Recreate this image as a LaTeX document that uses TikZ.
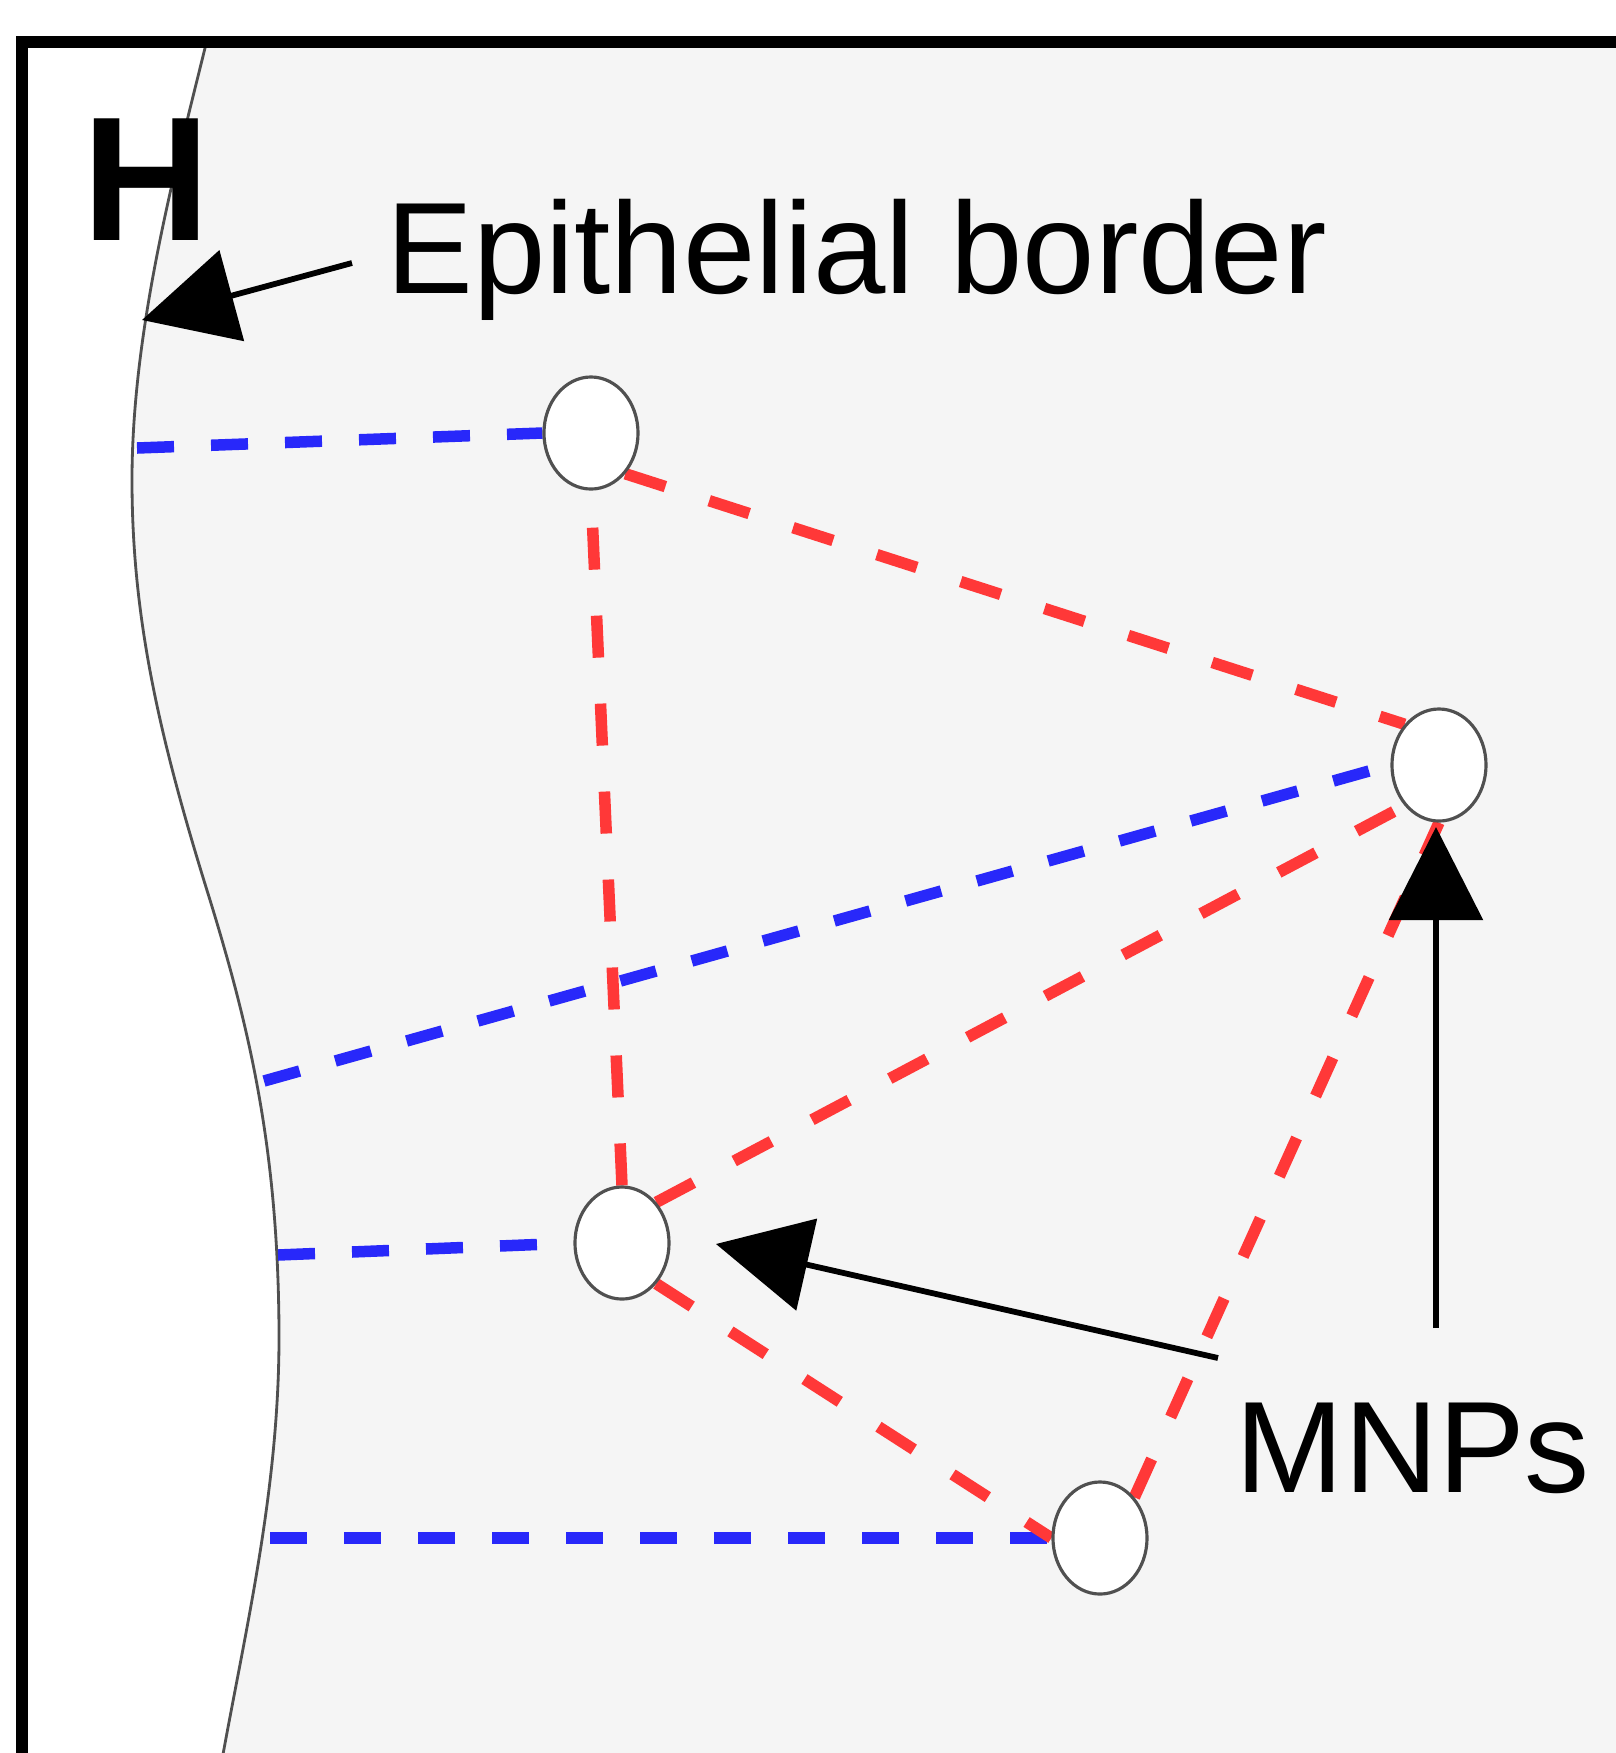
\documentclass[tikz,border=0pt]{standalone}
\usepackage{fontspec}
\setmainfont{Liberation Sans}
\usetikzlibrary{arrows.meta,shapes.geometric}
\definecolor{bggray}{RGB}{245,245,245}
\definecolor{dred}{RGB}{255,56,56}
\definecolor{dblue}{RGB}{40,40,250}
\definecolor{edgegray}{RGB}{80,80,80}
\pgfdeclarelayer{back}
\pgfdeclarelayer{mid}
\pgfsetlayers{back,mid,main}
\begin{document}
\begin{tikzpicture}[x=0.01cm,y=-0.01cm,
  mnp/.style={draw=edgegray, line width=0.9pt, fill=white, ellipse, minimum width=0.94cm, minimum height=1.12cm, inner sep=0pt},
  redlink/.style={draw=dred, line width=0.115cm, dash pattern=on 0.42cm off 0.46cm},
  bluelink/.style={draw=dblue, line width=0.115cm, dash pattern=on 0.37cm off 0.37cm},
  pointer/.style={draw=black, line width=0.058cm, -{Triangle[length=0.93cm,width=0.93cm]}},
  txt/.style={inner sep=0pt, anchor=base west, font=\fontsize{37}{40}\selectfont}
]
\useasboundingbox (0,0) rectangle (1616,1753);
\begin{pgfonlayer}{back}
\fill[white] (0,0) rectangle (1616,1753);
\begin{scope}
\clip (0,42) rectangle (1616,1753);
\fill[bggray] (207,40) .. controls (175,170) and (132,330) .. (132,480)
  .. controls (132,620) and (160,740) .. (210,900)
  .. controls (250,1030) and (278,1150) .. (279,1330)
  .. controls (280,1500) and (240,1650) .. (215,1800)
  -- (1700,1800) -- (1700,40) -- cycle;
\draw[edgegray, line width=0.8pt] (207,40) .. controls (175,170) and (132,330) .. (132,480)
  .. controls (132,620) and (160,740) .. (210,900)
  .. controls (250,1030) and (278,1150) .. (279,1330)
  .. controls (280,1500) and (240,1650) .. (215,1800);
\end{scope}
\end{pgfonlayer}

\node[mnp] (c1) at (591,433) {};
\node[mnp] (c2) at (1439,765) {};
\node[mnp] (c3) at (622,1243) {};
\node[mnp] (c4) at (1100,1538) {};

\coordinate (e1) at (137,448);
\coordinate (e2) at (264,1081);
\coordinate (e3) at (278,1255);
\coordinate (e4) at (270,1538);

\begin{pgfonlayer}{mid}
\draw[bluelink] (e1) -- (c1.west);
\draw[bluelink] (e2) -- (c2.west);
\draw[bluelink] (e3) -- (c3.west);
\draw[bluelink] (e4) -- (c4.west);
\draw[redlink] (c3.north) -- (c1.south);
\draw[redlink] (c1.south east) -- (c2.north west);
\draw[redlink] (c3.north east) -- (c2.south west);
\draw[redlink] (c4.north east) -- (c2.south);
\draw[redlink] (c3.south east) -- (c4.west);
\end{pgfonlayer}

\node[txt, font=\bfseries\fontsize{50.3}{55}\selectfont] (h) at (82,240) {H};
\node[txt] (ep) at (386,293) {Epithelial border};
\node[txt] (mn) at (1235,1492) {MNPs};

\coordinate (a1s) at (352,263);
\coordinate (a1t) at (142,320);
\coordinate (a2s) at (1218,1358);
\coordinate (a2t) at (716,1244);
\coordinate (a3s) at (1436,1328);
\coordinate (a3t) at (1436,827);
\draw[pointer] (a1s) -- (a1t);
\draw[pointer] (a2s) -- (a2t);
\draw[pointer] (a3s) -- (a3t);

\begin{scope}
\clip (0,0) rectangle (1616,1753);
\draw[line width=0.12cm] (1700,42) -- (22,42) -- (22,1800);
\end{scope}
\end{tikzpicture}
\end{document}
